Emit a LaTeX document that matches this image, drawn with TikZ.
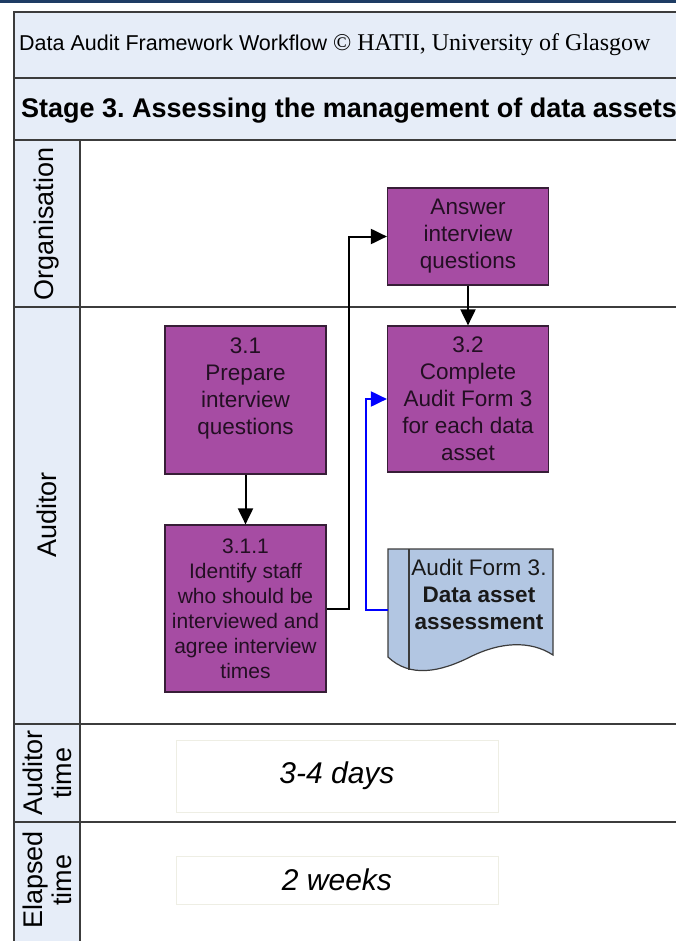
\documentclass[tikz,border=0pt]{standalone}
\usepackage{fontspec}
\setmainfont{Liberation Sans}
\newfontfamily\timesfont{Liberation Serif}
\usetikzlibrary{arrows.meta}
\definecolor{hdr}{RGB}{230,237,248}
\definecolor{purp}{RGB}{166,76,163}
\definecolor{purpline}{RGB}{55,30,55}
\definecolor{purptext}{RGB}{35,15,35}
\definecolor{docfill}{RGB}{178,198,226}
\definecolor{framec}{RGB}{60,60,60}
\definecolor{navy}{RGB}{30,60,100}
\definecolor{tline}{RGB}{238,238,228}
\frenchspacing
\begin{document}
\begin{tikzpicture}[x=1pt,y=-1pt,
  frameline/.style={draw=framec,line width=1.6pt},
  pbox/.style={draw=purpline,fill=purp,line width=1.2pt,align=center,
    font=\fontsize{22.5}{27}\selectfont,inner sep=0pt,text=purptext},
  conn/.style={draw=black,line width=2pt,-{Triangle[length=16pt,width=15pt]}},
  bconn/.style={draw=blue,line width=2pt,-{Triangle[length=16pt,width=15pt]}},
  tbox/.style={draw=tline,line width=0.8pt,fill=white,inner sep=0pt,
    font=\fontsize{30}{34}\selectfont\itshape},
  lane/.style={inner sep=0pt,align=center,font=\fontsize{27}{29}\selectfont},
  plain/.style={inner sep=0pt,anchor=base west}]
\useasboundingbox (0,0) rectangle (676,941);
\clip (0,0) rectangle (676,941);
\fill[white] (0,0) rectangle (676,941);
\fill[navy] (0,0) rectangle (676,3);
% header fills
\fill[hdr] (14,12) rectangle (690,140);
\fill[hdr] (14,140) rectangle (80,950);
% frame lines
\draw[frameline] (14,950) -- (14,12) -- (690,12);
\draw[frameline] (80,140) -- (80,950);
\foreach \yy in {78,140,307,724,822} {\draw[frameline] (14,\yy) -- (690,\yy);}
% header texts
\node[plain] (hd) at (19,51) {\fontsize{21.5}{24}\selectfont Data Audit Framework Workflow {\timesfont\fontsize{24}{26}\selectfont © HATII, University of Glasgow}};
\node[plain] (st) at (21,118) {\fontsize{27}{30}\selectfont\bfseries Stage 3. Assessing the management of data assets};
% lane labels
\node[lane,rotate=90] (lo) at (47,224) {Organisation};
\node[lane,rotate=90] (la) at (47,515) {Auditor};
\node[lane,rotate=90] (lat) at (47,773) {Auditor\\time};
\node[lane,rotate=90] (le) at (47,880) {Elapsed\\time};
% boxes
\node[pbox,minimum width=161pt,minimum height=97pt] (ans) at (468,236.5) {Answer\\interview\\questions};
\node[pbox,minimum width=161pt,minimum height=146pt] (b32) at (468,399) {3.2\\Complete\\Audit Form 3\\for each data\\asset};
\node[pbox,minimum width=161pt,minimum height=148pt] (b31) at (245.5,400) {3.1\\Prepare\\interview\\questions\\ \mbox{}};
\node[pbox,minimum width=161pt,minimum height=167pt,font=\fontsize{21}{25}\selectfont] (b311) at (245.5,608.5) {3.1.1\\Identify staff\\who should be\\interviewed and\\agree interview\\times};
% document shape
\draw[draw=framec,line width=1.2pt,fill=docfill] (388,549) -- (553,549) -- (553,655)
  .. controls (530,640) and (500,642) .. (470,657)
  .. controls (440,672) and (410,678) .. (388,657) -- cycle;
\draw[draw=framec,line width=1.2pt] (409,549) -- (409,670);
\node[inner sep=0pt,align=center,font=\fontsize{22.5}{27}\selectfont,text=black!90] (doc) at (479,594) {Audit Form 3.\\\textbf{Data asset}\\\textbf{assessment}};
\coordinate (docL) at (388,610);
% connectors
\draw[conn] (b31.south) -- (b311.north);
\draw[conn] (b311.east) -- ++(22,0) |- (ans.west);
\draw[conn] (ans.south) -- (b32.north);
\draw[bconn] (docL) -- ++(-22,0) |- (b32.west);
% time boxes
\node[tbox,minimum width=322pt,minimum height=72pt] (t1) at (337,776) {3-4 days};
\node[tbox,minimum width=322pt,minimum height=48pt] (t2) at (337,880) {2 weeks};
\end{tikzpicture}
\end{document}
